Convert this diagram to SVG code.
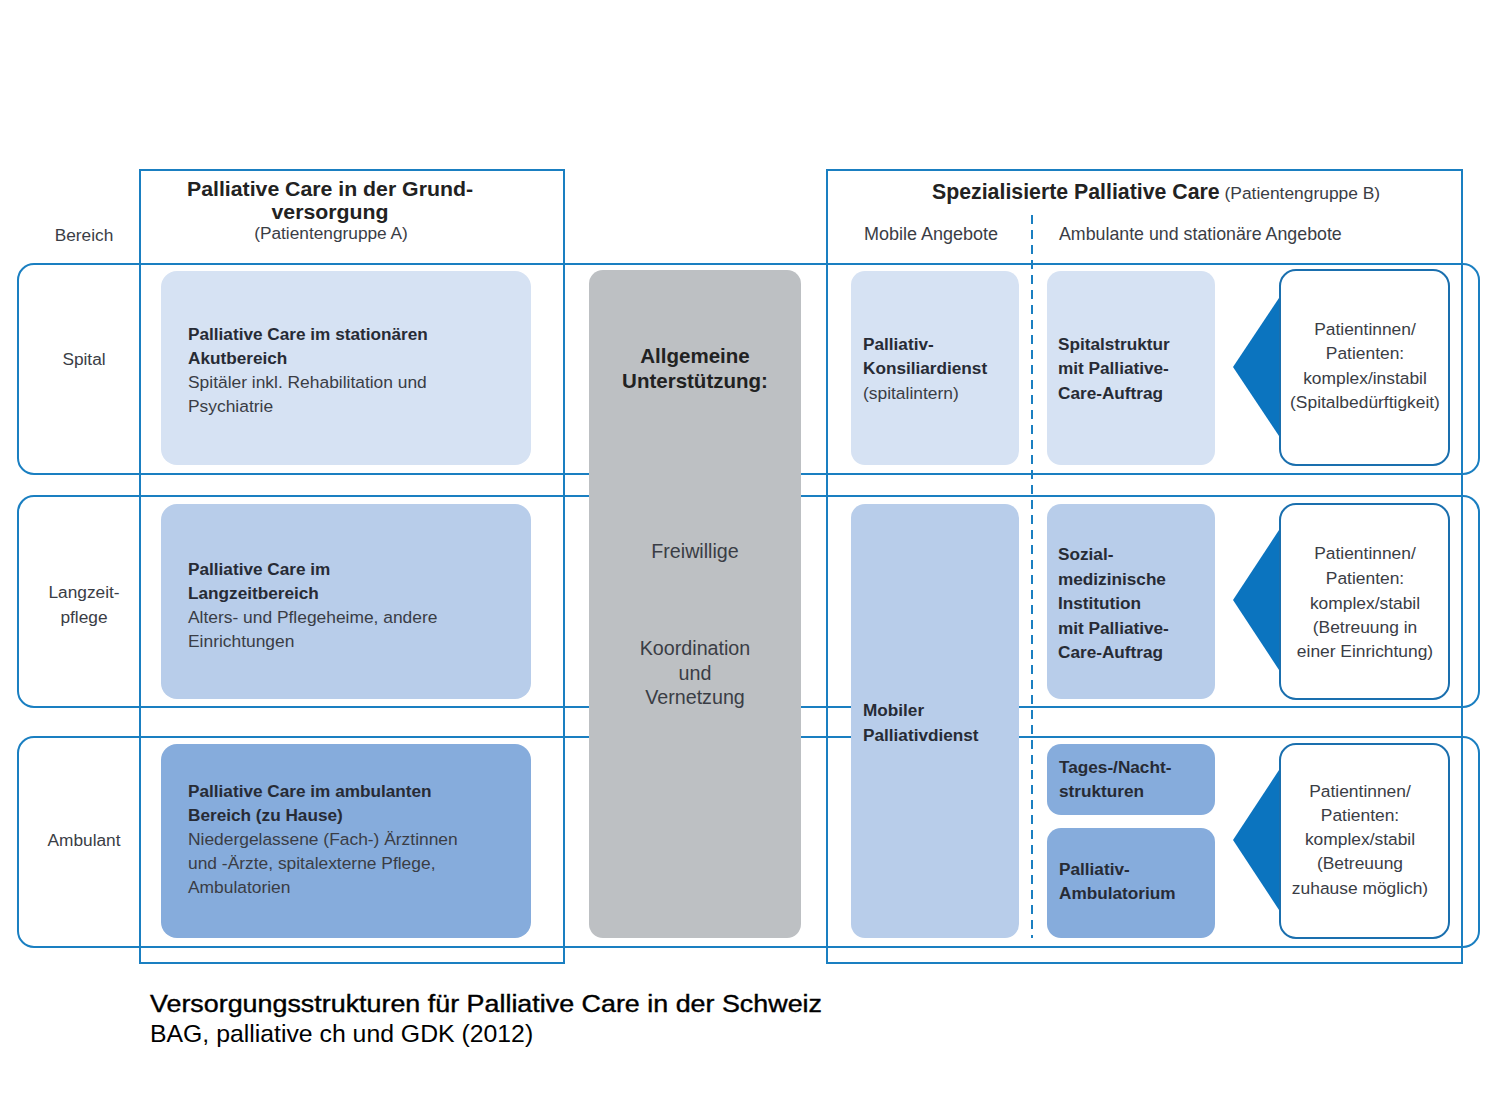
<svg xmlns="http://www.w3.org/2000/svg" width="1490" height="1118" viewBox="0 0 1490 1118">
<style>
text{font-family:"Liberation Sans",Arial,sans-serif;fill:#222}
.frame{fill:none;stroke:#1a7fc1;stroke-width:2}
.l1{fill:#d6e2f3}.l2{fill:#b8cdea}.l3{fill:#86acdc}
.gray{fill:#bdc0c3}
.pat{fill:#fff;stroke:#1a6fae;stroke-width:2}
.tri{fill:#0b74bf}
.b{font-weight:bold;font-size:17.2px;fill:#272b35}
.r{font-size:17.4px;fill:#3a3d45}
.lab{font-size:17.3px;fill:#3a3d45}
.c{text-anchor:middle}
.h{font-weight:bold;font-size:21.3px;fill:#222}
.g{font-size:19.7px;fill:#3a3d45}
.cap{font-size:24.8px;fill:#000}
</style>
<g id="frames">
<rect class="frame" x="18" y="264" width="1461" height="210" rx="16"/>
<rect class="frame" x="18" y="496" width="1461" height="211" rx="16"/>
<rect class="frame" x="18" y="737" width="1461" height="210" rx="16"/>
<rect class="frame" x="140" y="170" width="424" height="793"/>
<rect class="frame" x="827" y="170" width="635" height="793"/>
</g>
<g id="headers">
<text class="lab c" x="84" y="241">Bereich</text>
<text class="h c" x="330" y="196" style="font-size:19.5px" textLength="286" lengthAdjust="spacingAndGlyphs">Palliative Care in der Grund-</text>
<text class="h c" x="330" y="219" style="font-size:19.5px" textLength="117" lengthAdjust="spacingAndGlyphs">versorgung</text>
<text class="lab c" x="331" y="239">(Patientengruppe A)</text>
<text x="932" y="199"><tspan class="h">Spezialisierte Palliative Care</tspan><tspan style="font-size:17.4px;fill:#3a3d45"> (Patientengruppe B)</tspan></text>
<text class="lab" x="864" y="240" style="font-size:18px">Mobile Angebote</text>
<text class="lab" x="1059" y="240" style="font-size:17.8px">Ambulante und stationäre Angebote</text>
<text class="lab c" x="84" y="365">Spital</text>
<text class="lab c" x="84" y="598">Langzeit-</text>
<text class="lab c" x="84" y="623">pflege</text>
<text class="lab c" x="84" y="846">Ambulant</text>
</g>
<g id="connectors">
<line x1="1032" y1="215" x2="1032" y2="938" stroke="#1a7fc1" stroke-width="2" stroke-dasharray="9,6"/>
<polygon class="tri" points="1233,367 1281,295 1281,439"/>
<polygon class="tri" points="1233,600 1281,527 1281,673"/>
<polygon class="tri" points="1233,840 1281,767 1281,913"/>
</g>
<g id="n-akut">
<rect class="l1" x="161" y="271" width="370" height="194" rx="16"/>
<text class="b" x="188" y="340">Palliative Care im stationären</text>
<text class="b" x="188" y="364">Akutbereich</text>
<text class="r" x="188" y="388">Spitäler inkl. Rehabilitation und</text>
<text class="r" x="188" y="412">Psychiatrie</text>
</g>
<g id="n-langzeit">
<rect class="l2" x="161" y="504" width="370" height="195" rx="16"/>
<text class="b" x="188" y="575">Palliative Care im</text>
<text class="b" x="188" y="599">Langzeitbereich</text>
<text class="r" x="188" y="623">Alters- und Pflegeheime, andere</text>
<text class="r" x="188" y="647">Einrichtungen</text>
</g>
<g id="n-ambulant">
<rect class="l3" x="161" y="744" width="370" height="194" rx="16"/>
<text class="b" x="188" y="797">Palliative Care im ambulanten</text>
<text class="b" x="188" y="821">Bereich (zu Hause)</text>
<text class="r" x="188" y="845">Niedergelassene (Fach-) Ärztinnen</text>
<text class="r" x="188" y="869">und -Ärzte, spitalexterne Pflege,</text>
<text class="r" x="188" y="893">Ambulatorien</text>
</g>
<g id="n-support">
<rect class="gray" x="589" y="270" width="212" height="668" rx="14"/>
<text class="h c" x="695" y="363" style="font-size:20.5px">Allgemeine</text>
<text class="h c" x="695" y="388" style="font-size:20.5px">Unterstützung:</text>
<text class="g c" x="695" y="558">Freiwillige</text>
<text class="g c" x="695" y="655">Koordination</text>
<text class="g c" x="695" y="680">und</text>
<text class="g c" x="695" y="704">Vernetzung</text>
</g>
<g id="n-konsiliar">
<rect class="l1" x="851" y="271" width="168" height="194" rx="14"/>
<text class="b" x="863" y="350">Palliativ-</text>
<text class="b" x="863" y="374">Konsiliardienst</text>
<text class="r" x="863" y="399">(spitalintern)</text>
</g>
<g id="n-spitalstruktur">
<rect class="l1" x="1047" y="271" width="168" height="194" rx="14"/>
<text class="b" x="1058" y="350">Spitalstruktur</text>
<text class="b" x="1058" y="374">mit Palliative-</text>
<text class="b" x="1058" y="399">Care-Auftrag</text>
</g>
<g id="n-mobil">
<rect class="l2" x="851" y="504" width="168" height="434" rx="14"/>
<text class="b" x="863" y="716">Mobiler</text>
<text class="b" x="863" y="741">Palliativdienst</text>
</g>
<g id="n-sozial">
<rect class="l2" x="1047" y="504" width="168" height="195" rx="14"/>
<text class="b" x="1058" y="560">Sozial-</text>
<text class="b" x="1058" y="585">medizinische</text>
<text class="b" x="1058" y="609">Institution</text>
<text class="b" x="1058" y="634">mit Palliative-</text>
<text class="b" x="1058" y="658">Care-Auftrag</text>
</g>
<g id="n-tages">
<rect class="l3" x="1047" y="744" width="168" height="71" rx="14"/>
<text class="b" x="1059" y="773">Tages-/Nacht-</text>
<text class="b" x="1059" y="797">strukturen</text>
</g>
<g id="n-palliamb">
<rect class="l3" x="1047" y="828" width="168" height="110" rx="14"/>
<text class="b" x="1059" y="875">Palliativ-</text>
<text class="b" x="1059" y="899">Ambulatorium</text>
</g>
<g id="n-pat1">
<rect class="pat" x="1280" y="270" width="169" height="195" rx="16"/>
<text class="r c" x="1365" y="335">Patientinnen/</text>
<text class="r c" x="1365" y="359">Patienten:</text>
<text class="r c" x="1365" y="384">komplex/instabil</text>
<text class="r c" x="1365" y="408">(Spitalbedürftigkeit)</text>
</g>
<g id="n-pat2">
<rect class="pat" x="1280" y="504" width="169" height="195" rx="16"/>
<text class="r c" x="1365" y="559">Patientinnen/</text>
<text class="r c" x="1365" y="584">Patienten:</text>
<text class="r c" x="1365" y="609">komplex/stabil</text>
<text class="r c" x="1365" y="633">(Betreuung in</text>
<text class="r c" x="1365" y="657">einer Einrichtung)</text>
</g>
<g id="n-pat3">
<rect class="pat" x="1280" y="744" width="169" height="194" rx="16"/>
<text class="r c" x="1360" y="797">Patientinnen/</text>
<text class="r c" x="1360" y="821">Patienten:</text>
<text class="r c" x="1360" y="845">komplex/stabil</text>
<text class="r c" x="1360" y="869">(Betreuung</text>
<text class="r c" x="1360" y="894">zuhause möglich)</text>
</g>
<g id="caption">
<text class="cap" x="150" y="1012" stroke="#000" stroke-width="0.4" textLength="672" lengthAdjust="spacingAndGlyphs">Versorgungsstrukturen für Palliative Care in der Schweiz</text>
<text class="cap" x="150" y="1042">BAG, palliative ch und GDK (2012)</text>
</g>
</svg>
